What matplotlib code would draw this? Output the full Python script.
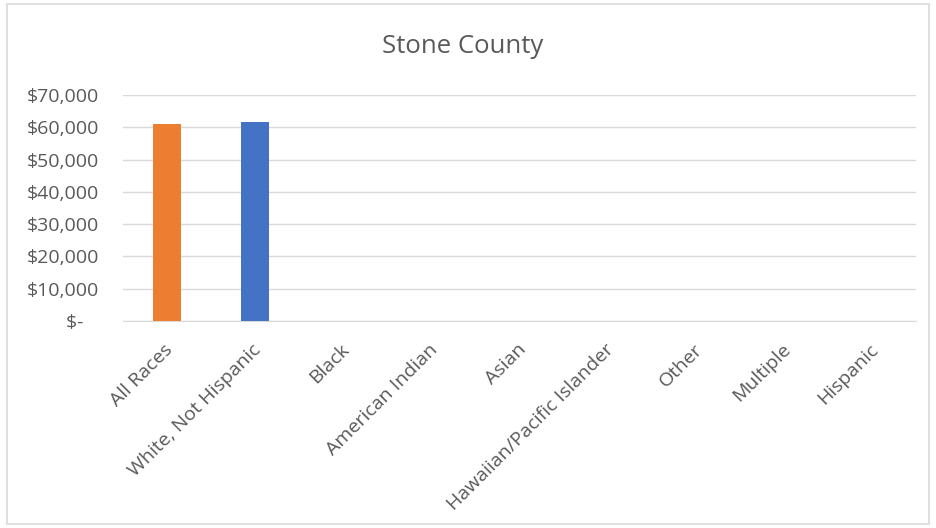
import numpy as np
import matplotlib
matplotlib.use("Agg")
import matplotlib.pyplot as plt
import matplotlib.transforms as mtransforms
from matplotlib.ticker import FuncFormatter
from matplotlib.patches import Rectangle

categories = ["All Races", "White, Not Hispanic", "Black", "American Indian", "Asian",
              "Hawaiian/Pacific Islander", "Other", "Multiple", "Hispanic"]
income = [61000, 61700, 0, 0, 0, 0, 0, 0, 0]
bar_colors = ["#ED7D31", "#4472C4"] + ["#4472C4"] * 7

plt.rcParams["font.family"] = ["Open Sans", "DejaVu Sans"]
text_color = "#595959"

fig = plt.figure(figsize=(9.36, 5.28), dpi=100)
fig.patches.append(Rectangle((0.008, 0.008), 0.984, 0.984, transform=fig.transFigure,
                             fill=False, edgecolor="#D9D9D9", linewidth=1.2))
ax = fig.add_axes([0.131, 0.392, 0.848, 0.428])

x = np.arange(len(categories))
ax.bar(x, income, width=0.32, color=bar_colors, zorder=3)

ax.set_xlim(-0.5, len(categories) - 0.5)
ax.set_ylim(0, 70000)
ax.set_yticks(np.arange(0, 70001, 10000))


def money(v, pos):
    if v == 0:
        return "$-   "
    return f"${v:,.0f}"


ax.yaxis.set_major_formatter(FuncFormatter(money))
ax.grid(axis="y", color="#D9D9D9", linewidth=1, zorder=0)
for s in ["top", "right", "left"]:
    ax.spines[s].set_visible(False)
ax.spines["bottom"].set_color("#D9D9D9")
ax.tick_params(axis="y", length=0, colors=text_color, labelsize=14, pad=17)
ax.set_xticks(x)
ax.set_xticklabels(categories, rotation=45, ha="right", rotation_mode="anchor")
ax.tick_params(axis="x", length=0, colors=text_color, labelsize=14, pad=14)
shift = mtransforms.ScaledTranslation(-2 / 72, 0, fig.dpi_scale_trans)
for lbl in ax.get_xticklabels():
    lbl.set_transform(lbl.get_transform() + shift)

fig.text(0.494, 0.911, "Stone County", ha="center", va="center", fontsize=18.5, color=text_color)

fig.savefig("out.png", dpi=100)
